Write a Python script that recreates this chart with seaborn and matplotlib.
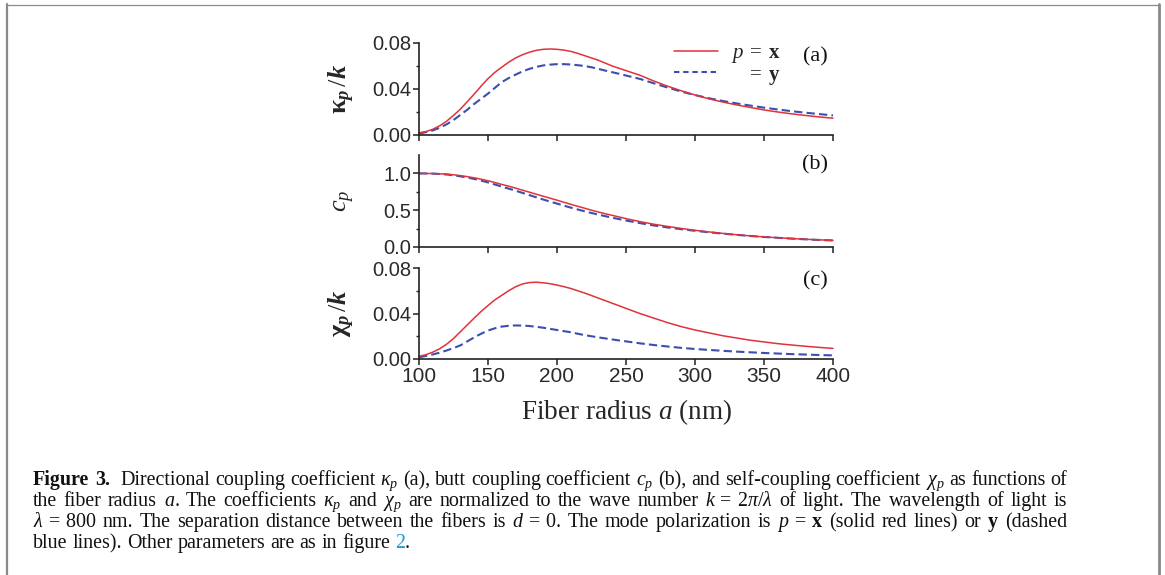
import re
import matplotlib
matplotlib.use("Agg")
import matplotlib.pyplot as plt
import seaborn as sns
from matplotlib.lines import Line2D
from matplotlib.ticker import FixedLocator, FixedFormatter

# ---------------- data ----------------
radius = [100, 105, 110, 115, 120, 125, 130, 135, 140, 145, 150, 155, 160, 165, 170, 175,
          180, 185, 190, 195, 200, 205, 210, 215, 220, 225, 230, 235, 240, 245, 250,
          260, 270, 280, 290, 300, 310, 320, 330, 340, 350, 360, 370, 380, 390, 400]

kappa_x = [0.0018, 0.003, 0.005, 0.008, 0.012, 0.017, 0.0225, 0.029, 0.0356, 0.0425, 0.049,
           0.0545, 0.059, 0.0633, 0.067, 0.0698, 0.072, 0.0736, 0.0745, 0.0748, 0.0745,
           0.0738, 0.0727, 0.071, 0.069, 0.067, 0.065, 0.0625, 0.060, 0.058, 0.056,
           0.052, 0.047, 0.0425, 0.0385, 0.0348, 0.0315, 0.0287, 0.0262, 0.024, 0.0218,
           0.0200, 0.0184, 0.0170, 0.0157, 0.0146]
kappa_y = [0.0012, 0.0025, 0.004, 0.0063, 0.0093, 0.013, 0.0175, 0.022, 0.027, 0.0315, 0.036,
           0.041, 0.046, 0.0495, 0.0525, 0.0553, 0.0575, 0.0592, 0.0605, 0.0612, 0.0616,
           0.0616, 0.0613, 0.0607, 0.060, 0.0589, 0.0575, 0.056, 0.0546, 0.0532, 0.0517,
           0.0488, 0.045, 0.0413, 0.0378, 0.0347, 0.0320, 0.0296, 0.0275, 0.0256, 0.0238,
           0.0222, 0.0207, 0.0194, 0.0182, 0.0170]

c_x = [1.0, 0.999, 0.998, 0.995, 0.99, 0.981, 0.97, 0.956, 0.94, 0.921, 0.90, 0.876, 0.85,
       0.826, 0.80, 0.772, 0.745, 0.717, 0.69, 0.663, 0.636, 0.608, 0.58, 0.553, 0.527, 0.50,
       0.475, 0.452, 0.43, 0.408, 0.386,
       0.345, 0.31, 0.28, 0.252, 0.227, 0.205, 0.185, 0.167, 0.151, 0.137, 0.126, 0.115,
       0.105, 0.097, 0.09]
c_y = [1.0, 0.999, 0.997, 0.992, 0.985, 0.974, 0.96, 0.944, 0.925, 0.902, 0.877, 0.849, 0.82,
       0.793, 0.765, 0.735, 0.705, 0.675, 0.645, 0.617, 0.59, 0.562, 0.535, 0.51, 0.485, 0.462,
       0.44, 0.419, 0.398, 0.379, 0.36,
       0.325, 0.293, 0.266, 0.242, 0.22, 0.2, 0.182, 0.165, 0.15, 0.136, 0.125, 0.114,
       0.104, 0.096, 0.089]

chi_x = [0.0023, 0.0038, 0.006, 0.009, 0.013, 0.018, 0.024, 0.030, 0.036, 0.0418, 0.047,
         0.052, 0.056, 0.060, 0.0635, 0.066, 0.0672, 0.0675, 0.067, 0.0662, 0.065, 0.0636,
         0.062, 0.060, 0.058, 0.0558, 0.0535, 0.0513, 0.049, 0.0468, 0.0445,
         0.040, 0.036, 0.032, 0.0285, 0.0255, 0.023, 0.0205, 0.0185, 0.0165, 0.015, 0.0135,
         0.0123, 0.0112, 0.0102, 0.0093]
chi_y = [0.0015, 0.0027, 0.004, 0.0056, 0.0075, 0.0096, 0.012, 0.0155, 0.019, 0.0222, 0.025,
         0.027, 0.0285, 0.0292, 0.0295, 0.0294, 0.029, 0.0283, 0.0275, 0.0265, 0.0255, 0.0245,
         0.0235, 0.0222, 0.021, 0.020, 0.019, 0.0181, 0.0172, 0.0163, 0.0155,
         0.0138, 0.0123, 0.011, 0.0098, 0.0088, 0.008, 0.0072, 0.0065, 0.0059, 0.0053, 0.0048,
         0.0043, 0.0039, 0.0035, 0.0032]

x_ticks = [100, 150, 200, 250, 300, 350, 400]
x_tick_labels = ["100", "150", "200", "250", "300", "350", "400"]
kappa_ticks = [0.00, 0.04, 0.08]
kappa_tick_labels = ["0.00", "0.04", "0.08"]
kappa_minor = [0.02, 0.06]
c_ticks = [0.0, 0.5, 1.0]
c_tick_labels = ["0.0", "0.5", "1.0"]
c_minor = [0.25, 0.75]
chi_ticks = [0.00, 0.04, 0.08]
chi_tick_labels = ["0.00", "0.04", "0.08"]
chi_minor = [0.02, 0.06]

panel_letters = ["(a)", "(b)", "(c)"]
y_labels = [r"$\mathbf{\kappa}_{\mathsf{p}}\,/\mathsf{k}$",
            r"$\mathit{c}_p$",
            r"$\mathbf{\chi}_{\mathsf{p}}\,/\mathsf{k}$"]
legend_labels = [r"$p\;=\;\mathbf{x}$", r"$\;\;\;\,=\;\mathbf{y}$"]
x_label = r"Fiber radius $a$ (nm)"

caption_lines = [
    [("Figure 3.", dict(fontweight="bold")),
     (r"  Directional coupling coefficient $\kappa_p$ (a), butt coupling coefficient $c_p$ (b), "
      r"and self-coupling coefficient $\chi_p$ as functions of", {})],
    [(r"the fiber radius $a$. The coefficients $\kappa_p$ and $\chi_p$ are normalized to the wave number "
      r"$k\:=\:2\pi/\lambda$ of light. The wavelength of light is", {})],
    [(r"$\lambda\:=\:800$ nm. The separation distance between the fibers is $d\:=\:0$. "
      r"The mode polarization is $p\:=\:\mathbf{x}$ (solid red lines) or $\mathbf{y}$ (dashed", {})],
    [("blue lines). Other parameters are as in figure ", {}),
     ("2", dict(color="#1a9ad6")),
     (".", {})],
]

# ---------------- style ----------------
sns.set_style("ticks")
plt.rcParams.update({
    "font.family": ["Liberation Sans", "DejaVu Sans"],
    "mathtext.fontset": "custom",
    "mathtext.rm": "Liberation Serif",
    "mathtext.it": "Liberation Serif:italic",
    "mathtext.bf": "Liberation Serif:bold",
    "mathtext.sf": "Liberation Serif:italic:bold",
    "axes.edgecolor": "#222222",
    "axes.linewidth": 1.2,
    "xtick.color": "#222222",
    "ytick.color": "#222222",
    "xtick.labelcolor": "#2a2a2a",
    "ytick.labelcolor": "#2a2a2a",
})

RED = "#e0323a"
BLUE = "#3a4fae"
W, H = 1165, 575
fig = plt.figure(figsize=(W / 100, H / 100), dpi=100)
fig.patch.set_facecolor("white")


def px_axes(left, top, right, bottom):
    return fig.add_axes([left / W, 1 - bottom / H, (right - left) / W, (bottom - top) / H])


ax_a = px_axes(419, 43, 833, 135)
ax_b = px_axes(419, 155, 833, 247)
ax_c = px_axes(419, 268, 833, 359)
axes = [ax_a, ax_b, ax_c]

series = [(kappa_x, kappa_y), (c_x, c_y), (chi_x, chi_y)]
yticks = [(kappa_ticks, kappa_tick_labels, kappa_minor, 0.08),
          (c_ticks, c_tick_labels, c_minor, 1.25),
          (chi_ticks, chi_tick_labels, chi_minor, 0.08)]
letter_y = [0.85, 0.89, 0.86]

for i, ax in enumerate(axes):
    ys_x, ys_y = series[i]
    sns.lineplot(x=radius, y=ys_y, ax=ax, color=BLUE, lw=1.5,
                 linestyle=(0, (4, 2.0)), clip_on=False)
    sns.lineplot(x=radius, y=ys_x, ax=ax, color=RED, lw=1.1, clip_on=False)
    ticks, labels, minor, ytop = yticks[i]
    ax.set_xlim(100, 400)
    ax.set_ylim(0, ytop)
    ax.xaxis.set_major_locator(FixedLocator(x_ticks))
    ax.xaxis.set_major_formatter(FixedFormatter(x_tick_labels))
    ax.yaxis.set_major_locator(FixedLocator(ticks))
    ax.yaxis.set_major_formatter(FixedFormatter(labels))
    ax.yaxis.set_minor_locator(FixedLocator(minor))
    ax.tick_params(axis="both", which="major", direction="out", length=4.2, width=1.1, pad=1.5)
    ax.tick_params(axis="y", which="minor", direction="out", length=2.5, width=1.0)
    ax.tick_params(axis="y", labelsize=14.5)
    ax.tick_params(axis="x", labelsize=15)
    if i < 2:
        ax.tick_params(axis="x", labelbottom=False)
    for s in ("top", "right"):
        ax.spines[s].set_visible(False)
    ax.set_xlabel("")
    ax.set_ylabel(y_labels[i], fontsize=19, family="Liberation Serif")
    ax.yaxis.set_label_coords(-0.15, 0.5)
    ax.text(0.957, letter_y[i], panel_letters[i], transform=ax.transAxes,
            ha="center", va="center", family="Liberation Serif", fontsize=16, color="#111111")

ax_c.set_xlabel(x_label, fontsize=19.5, family="Liberation Serif", labelpad=8)

handles = [Line2D([], [], color=RED, lw=1.1),
           Line2D([], [], color=BLUE, lw=1.5, linestyle=(0, (2.6, 1.8)))]
ax_a.legend(handles, legend_labels, frameon=False, loc="center left",
            bbox_to_anchor=(0.617, 0.76), borderpad=0, borderaxespad=0,
            handlelength=2.1, handletextpad=0.6, labelspacing=0.0,
            prop={"family": "Liberation Serif", "size": 15})

# ---------------- caption (justified, word by word) ----------------
renderer = fig.canvas.get_renderer()
cap_x0 = 33
cap_x1 = 1067
baselines = [485, 506, 527, 548]


def measure(s, kw, size):
    t = fig.text(0, 0, s, fontsize=size, family="Liberation Serif", **kw)
    w = t.get_window_extent(renderer).width
    t.remove()
    return w


def tokens_of(segs, size):
    toks = []
    bars = measure("||", {}, size)
    for s, kw in segs:
        for part in re.split(r"( +)", s):
            if not part:
                continue
            if part.startswith(" "):
                toks.append(["space", len(part), kw, 0])
            elif "$" in part:
                toks.append(["word", part, kw, measure(part, kw, size)])
            else:
                w = measure("|" + part + "|", kw, size) - bars
                toks.append(["word", part, kw, w])
    return toks


def natural_width(toks, space_w):
    n_space = sum(t[1] for t in toks if t[0] == "space")
    return sum(t[3] for t in toks if t[0] == "word") + n_space * space_w, n_space


# fit the font so the first line spans the caption width
size0 = 13.0
sp0 = measure("| |", {}, size0) - measure("||", {}, size0)
nat0, _ = natural_width(tokens_of(caption_lines[0], size0), sp0)
cap_size = size0 * (cap_x1 - cap_x0) / nat0
space_w = measure("| |", {}, cap_size) - measure("||", {}, cap_size)

for li, (segs, yb) in enumerate(zip(caption_lines, baselines)):
    toks = tokens_of(segs, cap_size)
    natural, n_space = natural_width(toks, space_w)
    extra = 0.0
    if li < len(caption_lines) - 1 and n_space:
        extra = (cap_x1 - cap_x0 - natural) / n_space
    x = cap_x0
    for kind, val, kw, w in toks:
        if kind == "space":
            x += val * (space_w + extra)
            continue
        kw = dict(kw)
        kw.setdefault("color", "#111111")
        fig.text(x / W, 1 - yb / H, val, fontsize=cap_size, family="Liberation Serif",
                 ha="left", va="baseline", **kw)
        x += w

# ---------------- frame ----------------
gray = "#8a8a8a"
fig.add_artist(Line2D([6.5 / W, 1159 / W], [1 - 4.5 / H, 1 - 4.5 / H], transform=fig.transFigure,
                      color=gray, lw=0.9))
fig.add_artist(Line2D([6.5 / W, 6.5 / W], [0, 1 - 4 / H], transform=fig.transFigure,
                      color=gray, lw=1.6))
fig.add_artist(Line2D([1159 / W, 1159 / W], [0, 1 - 4 / H], transform=fig.transFigure,
                      color=gray, lw=2.0))

fig.savefig("out.png", dpi=100, facecolor="white")
